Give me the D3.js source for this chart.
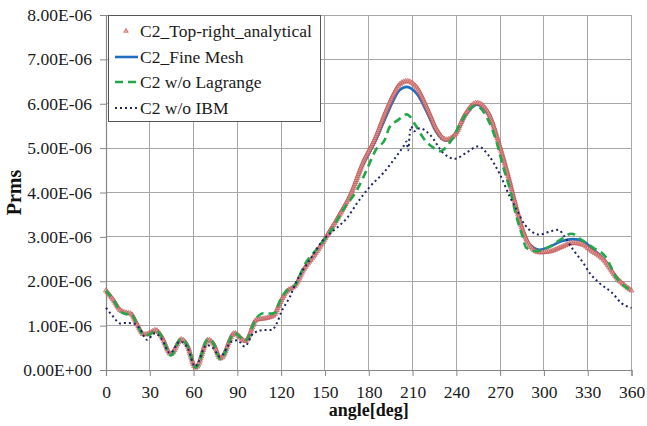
<!DOCTYPE html>
<html><head><meta charset="utf-8">
<script src="https://cdn.jsdelivr.net/npm/d3@7"></script>
<style>
html,body{margin:0;padding:0;background:#fff;}
svg{display:block;font-family:"Liberation Serif","Times New Roman",serif;}
</style></head>
<body><svg id="c" width="647" height="426"></svg>
<script>
// ---- data (values in units of 1e-6) ----
const UNIT = 1e-6;
const xTicks = [0,30,60,90,120,150,180,210,240,270,300,330,360];
const yTicks = [0,1,2,3,4,5,6,7,8];
const seriesNames = ["C2_Top-right_analytical","C2_Fine Mesh","C2 w/o Lagrange","C2 w/o IBM"];

const analyticalAngle = [0,5,10,14,17,21,26,30,34,38,44.5,51.5,55.5,61.5,70,73.5,78.5,88,95.5,103,110,115,119,123,130,135,143,151,160,168,176,184,192,197,201,206,213,220,226.5,233,239,246,254,262,270,276,280,285,290,297,304,312,320,327,331.5,341,350,360];
const analyticalValue = [1.79,1.58,1.34,1.29,1.27,1.05,0.80,0.83,0.90,0.76,0.36,0.69,0.57,0.05,0.68,0.60,0.26,0.83,0.65,1.13,1.17,1.23,1.50,1.74,1.92,2.24,2.60,3.01,3.50,3.99,4.67,5.19,5.85,6.21,6.43,6.51,6.36,5.90,5.42,5.19,5.30,5.76,6.02,5.79,5.02,4.32,3.80,3.20,2.82,2.65,2.67,2.77,2.86,2.82,2.71,2.48,2.07,1.79];

const fineAngle = [0,5,10,14,17,21,26,30,34,38,44.5,51.5,55.5,61.5,70,73.5,78.5,88,95.5,103,110,115,119,123,130,135,143,151,160,168,176,184,192,197,201,206,213,220,226.5,233,239,246,254,262,270,276,280,285,290,297,304,312,320,327,331.5,341,350,360];
const fineValue = [1.79,1.58,1.34,1.29,1.27,1.05,0.80,0.83,0.90,0.76,0.36,0.69,0.57,0.05,0.68,0.60,0.26,0.83,0.65,1.13,1.17,1.23,1.50,1.74,1.92,2.24,2.60,3.01,3.50,3.99,4.62,5.12,5.72,6.08,6.30,6.38,6.22,5.80,5.35,5.17,5.28,5.72,5.98,5.75,5.00,4.32,3.80,3.20,2.84,2.71,2.78,2.90,2.95,2.90,2.78,2.50,2.07,1.79];

const lagAngle = [0,5,10,14,17,21,26,30,34,38,44.5,51.5,55.5,61.5,70,73.5,78.5,88,95.5,103,108,113,116,119,123,130,136,144,154.6,162.5,172,178.6,185,191,194.5,200,206,208,212,218,223,229,235.6,245,253,262,267,272,278,280,284.7,288,295,304,311,319,326,334,342,350,360];
const lagValue = [1.79,1.58,1.32,1.26,1.27,1.05,0.78,0.80,0.90,0.76,0.33,0.70,0.57,0.05,0.70,0.60,0.24,0.83,0.66,1.17,1.28,1.27,1.30,1.55,1.76,1.93,2.37,2.71,3.16,3.61,4.06,4.51,4.97,5.19,5.49,5.63,5.76,5.72,5.52,5.20,5.04,4.93,5.13,5.68,5.96,5.62,5.20,4.59,3.91,3.61,3.08,2.75,2.68,2.78,2.93,3.07,2.93,2.75,2.56,2.07,1.79];

const ibmAngle = [0,5,9.6,14,18.7,23,28,33.6,38,43.8,50.7,56,61,69,73.5,78,86,90,95,101,108,113.5,117,120,126,131,140,148,158,165,172,181,190,199,204,206,207,208,209,211,215,222,231,239,247,255,262,270,276.7,281.4,287,291.6,297,304,310,314,320,327,331.5,338,347,353,360];
const ibmValue = [1.40,1.20,1.05,1.06,1.05,0.94,0.68,0.83,0.70,0.38,0.64,0.49,0.08,0.56,0.49,0.30,0.64,0.67,0.53,0.83,0.90,0.90,1.05,1.30,1.65,2.03,2.50,2.90,3.20,3.42,3.76,4.14,4.44,4.82,5.05,5.15,4.95,5.30,5.49,5.38,5.45,5.30,4.89,4.76,4.90,5.04,4.84,4.40,3.90,3.61,3.27,3.12,3.05,3.12,3.16,3.01,2.71,2.41,2.18,1.96,1.73,1.51,1.40];

// ---- layout ----
const svg = d3.select("#c");
const m = {left:106, top:15, right:15.5, bottom:56};
const W = 647 - m.left - m.right, H = 426 - m.top - m.bottom;
const x = d3.scaleLinear().domain([0,360]).range([m.left, m.left+W]);
const y = d3.scaleLinear().domain([0,8*UNIT]).range([m.top+H, m.top]);

const gridColor = "#a6a6a6";
svg.append("g").selectAll("line").data(xTicks).join("line")
  .attr("x1",d=>x(d)).attr("x2",d=>x(d)).attr("y1",y(0)).attr("y2",y(8*UNIT))
  .attr("stroke",gridColor).attr("stroke-width",1).attr("shape-rendering","crispEdges");
svg.append("g").selectAll("line").data(yTicks).join("line")
  .attr("x1",x(0)).attr("x2",x(360)).attr("y1",d=>y(d*UNIT)).attr("y2",d=>y(d*UNIT))
  .attr("stroke",gridColor).attr("stroke-width",1).attr("shape-rendering","crispEdges");

function sci(v){
  if (v===0) return "0.00E+00";
  const e = Math.floor(Math.log10(Math.abs(v))+1e-9);
  const mant = v/Math.pow(10,e);
  const es = (e<0?"-":"+") + String(Math.abs(e)).padStart(2,"0");
  return mant.toFixed(2)+"E"+es;
}

const xAxis = d3.axisBottom(x).tickValues(xTicks).tickSize(6).tickPadding(7).tickFormat(d3.format("d"));
const yAxis = d3.axisLeft(y).tickValues(yTicks.map(d=>d*UNIT)).tickSize(6).tickPadding(8).tickFormat(sci);
const gx = svg.append("g").attr("transform",`translate(0,${y(0)})`).call(xAxis);
const gy = svg.append("g").attr("transform",`translate(${x(0)},0)`).call(yAxis);
[gx,gy].forEach(g=>{
  g.select(".domain").attr("stroke","#868686").attr("stroke-width",1.2);
  g.selectAll(".tick line").attr("stroke","#868686");
  g.selectAll("text").attr("font-family","Liberation Serif, serif").attr("font-size",17.5).attr("fill","#1a1a1a");
});
gx.selectAll(".tick text").attr("dy","0.85em");

svg.append("text").attr("x",x(180)).attr("y",416).attr("text-anchor","middle")
  .attr("font-weight","bold").attr("font-size",18).attr("fill","#111").text("angle[deg]");
svg.append("text").attr("transform",`translate(21,${y(4*UNIT)}) rotate(-90)`).attr("text-anchor","middle")
  .attr("font-weight","bold").attr("font-size",20).attr("fill","#111").text("Prms");

// ---- series ----
const line = d3.line().x(d=>x(d[0])).y(d=>y(d[1]*UNIT)).curve(d3.curveMonotoneX);
const zip = (a,b)=>a.map((v,i)=>[v,b[i]]);

const blue = "#1f6fc0", green = "#22a84a", navy = "#1c2566", red = "#c0504d";
const plot = svg.append("g");

plot.append("path").datum(zip(fineAngle,fineValue)).attr("d",line)
  .attr("fill","none").attr("stroke",blue).attr("stroke-width",2.6);

const ap = plot.append("path").datum(zip(analyticalAngle,analyticalValue)).attr("d",line)
  .attr("fill","none").attr("stroke","#d9908e").attr("stroke-width",2.5);
const node = ap.node(), L = node.getTotalLength();
const pts = d3.range(0, L, 2.2).map(l=>node.getPointAtLength(l));
const tri = d3.symbol().type(d3.symbolTriangle).size(11);
plot.append("g").selectAll("path").data(pts).join("path")
  .attr("d",tri).attr("transform",p=>`translate(${p.x},${p.y})`)
  .attr("fill","#e7a8a6").attr("fill-opacity",0.55).attr("stroke",red).attr("stroke-width",0.7).attr("stroke-opacity",0.9);

plot.append("path").datum(zip(lagAngle,lagValue)).attr("d",line)
  .attr("fill","none").attr("stroke",green).attr("stroke-width",2.6).attr("stroke-dasharray","8,5");

plot.append("path").datum(zip(ibmAngle,ibmValue)).attr("d",line)
  .attr("fill","none").attr("stroke",navy).attr("stroke-width",2).attr("stroke-dasharray","2,3");

// ---- legend ----
const lg = svg.append("g");
lg.append("rect").attr("x",108.5).attr("y",15.5).attr("width",212).attr("height",106)
  .attr("fill","#fff").attr("stroke","#555").attr("stroke-width",1);
const rowY = [31,57,82,108];
const styles = [
  {type:"marker"},
  {stroke:blue,w:2.6,dash:null},
  {stroke:green,w:2.6,dash:"8,5"},
  {stroke:navy,w:2,dash:"2,3"}
];
seriesNames.forEach((n,i)=>{
  const s = styles[i];
  if (s.type==="marker"){
    lg.append("path").attr("d",d3.symbol().type(d3.symbolTriangle).size(9)).attr("transform",`translate(126,${rowY[i]})`)
      .attr("fill","#e7a8a6").attr("stroke",red).attr("stroke-width",0.6);
  } else {
    lg.append("line").attr("x1",115).attr("x2",138).attr("y1",rowY[i]).attr("y2",rowY[i])
      .attr("stroke",s.stroke).attr("stroke-width",s.w).attr("stroke-dasharray",s.dash);
  }
  lg.append("text").attr("x",140).attr("y",rowY[i]).attr("dy","0.35em")
    .attr("font-size",17.5).attr("fill","#1a1a1a").text(n);
});
</script></body></html>
